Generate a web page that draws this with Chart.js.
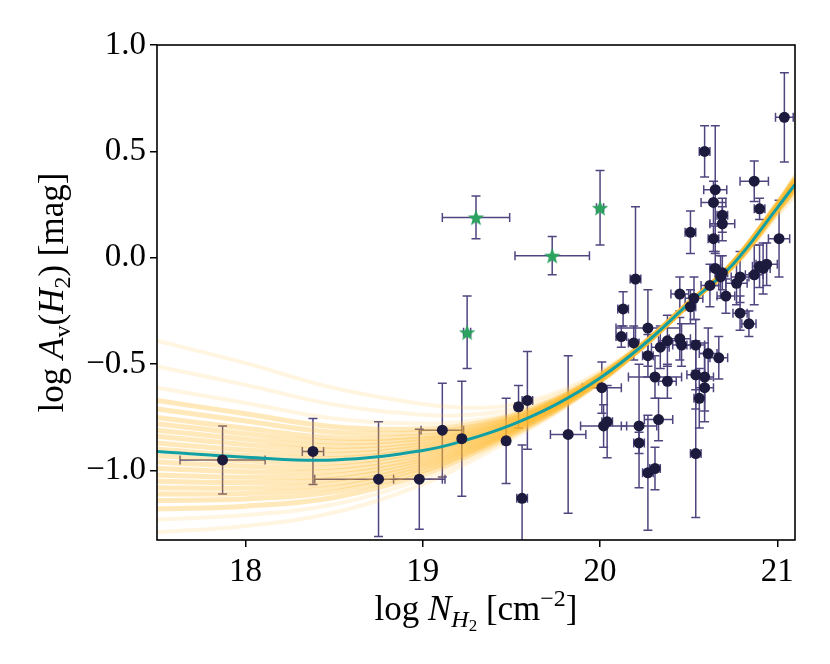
<!DOCTYPE html>
<html>
<head>
<meta charset="utf-8">
<script src="https://cdn.jsdelivr.net/npm/chart.js@4"></script>
<style>
html, body { margin: 0; padding: 0; background: #fff; }
</style>
</head>
<body>
<canvas id="chart" width="830" height="664"></canvas>
<script>
// axis ticks
const xTicks = [18, 19, 20, 21];
const yTicks = [-1.0, -0.5, 0.0, 0.5, 1.0];

// sightlines (dark points)
const obsX = [17.87, 18.38, 18.75, 18.98, 19.11, 19.22, 19.47, 19.54, 19.59, 19.56,
              19.82, 20.01, 20.02, 20.04, 20.20, 20.13, 20.12, 20.27, 20.19, 20.27,
              20.31, 20.22, 20.22, 20.27, 20.31, 20.33, 20.34, 21.04, 20.59, 20.65,
              20.64, 20.87, 20.90, 20.69, 20.69, 20.64, 20.51, 21.01, 20.45, 20.53,
              20.51, 20.62, 20.65, 20.69, 20.68, 20.77, 20.79, 20.87, 20.90, 20.92,
              20.94, 20.71, 20.79, 20.84, 20.38, 20.45, 20.46, 20.54, 20.61, 20.67,
              20.38, 20.54, 20.59, 20.59, 20.56, 20.54];
const obsY = [-0.95, -0.91, -1.04, -1.04, -0.81, -0.85, -0.86, -0.70, -0.67, -1.13,
              -0.83, -0.61, -0.79, -0.77, -0.10, -0.24, -0.37, -0.33, -0.40, -0.46,
              -0.56, -0.79, -0.87, -1.01, -0.99, -0.76, -0.42, 0.66, 0.50, 0.32,
              0.26, 0.36, 0.23, 0.20, 0.16, 0.09, 0.12, 0.09, -0.17, -0.19,
              -0.23, -0.13, -0.05, -0.07, -0.09, -0.12, -0.09, -0.08, -0.04, -0.05,
              -0.03, -0.18, -0.26, -0.31, -0.39, -0.38, -0.41, -0.41, -0.45, -0.47,
              -0.58, -0.55, -0.56, -0.61, -0.66, -0.92];
const obsXErr = [0.24, 0.06, 0.36, 0.145, 0.12, 0.02, 0.02, 0.02, 0.03, 0.03,
                 0.10, 0.11, 0.13, 0.03, 0.03, 0.03, 0.03, 0.18, 0.03, 0.03,
                 0.15, 0.10, 0.03, 0.03, 0.03, 0.08, 0.05, 0.05, 0.03, 0.065,
                 0.07, 0.08, 0.03, 0.03, 0.07, 0.03, 0.03, 0.06, 0.05, 0.05,
                 0.03, 0.05, 0.03, 0.03, 0.03, 0.06, 0.05, 0.05, 0.04, 0.04,
                 0.06, 0.05, 0.04, 0.04, 0.05, 0.06, 0.05, 0.05, 0.05, 0.05,
                 0.05, 0.05, 0.05, 0.05, 0.03, 0.03];
const obsYErr = [0.16, 0.155, 0.27, 0.235, 0.22, 0.27, 0.20, 0.10, 0.23, 0.25,
                 0.37, 0.12, 0.10, 0.17, 0.34, 0.08, 0.05, 0.18, 0.08, 0.10,
                 0.10, 0.29, 0.05, 0.27, 0.10, 0.10, 0.10, 0.21, 0.12, 0.30,
                 0.10, 0.095, 0.05, 0.08, 0.08, 0.06, 0.10, 0.18, 0.08, 0.10,
                 0.08, 0.10, 0.08, 0.08, 0.10, 0.10, 0.12, 0.14, 0.10, 0.12,
                 0.10, 0.08, 0.08, 0.06, 0.12, 0.10, 0.10, 0.12, 0.12, 0.10,
                 0.08, 0.16, 0.16, 0.16, 0.14, 0.30];

// green stars
const starX = [19.30, 19.73, 20.00, 19.25];
const starY = [0.19, 0.01, 0.235, -0.35];
const starXErr = [0.19, 0.21, 0.02, 0.02];
const starYErr = [0.10, 0.09, 0.175, 0.17];

// best fit (teal)
const fitX = [17.5, 18.0, 18.5, 19.0, 19.25, 19.5, 19.75, 20.0, 20.25, 20.5, 20.75, 21.0, 21.1];
const fitY = [-0.91, -0.937, -0.95, -0.905, -0.855, -0.785, -0.69, -0.565, -0.405, -0.215, -0.03, 0.235, 0.345];

// posterior draws (orange band), read at the same x as the fit
const bandX = fitX;
const bandCore = [
  [-0.67, -0.733, -0.794, -0.804, -0.785, -0.742, -0.664, -0.551, -0.399, -0.212, -0.038, 0.218, 0.319],
  [-0.71, -0.767, -0.820, -0.821, -0.797, -0.749, -0.668, -0.553, -0.400, -0.212, -0.037, 0.221, 0.323],
  [-0.75, -0.801, -0.846, -0.838, -0.809, -0.756, -0.672, -0.555, -0.401, -0.213, -0.036, 0.224, 0.327],
  [-0.78, -0.827, -0.865, -0.850, -0.817, -0.762, -0.676, -0.557, -0.402, -0.213, -0.035, 0.226, 0.331],
  [-0.81, -0.852, -0.885, -0.863, -0.826, -0.767, -0.679, -0.559, -0.402, -0.214, -0.034, 0.228, 0.334],
  [-0.84, -0.877, -0.904, -0.876, -0.835, -0.772, -0.682, -0.561, -0.403, -0.214, -0.032, 0.230, 0.337],
  [-0.87, -0.903, -0.924, -0.888, -0.843, -0.778, -0.686, -0.563, -0.404, -0.215, -0.031, 0.232, 0.341],
  [-0.90, -0.928, -0.943, -0.901, -0.852, -0.783, -0.689, -0.564, -0.405, -0.215, -0.030, 0.234, 0.344],
  [-0.93, -0.954, -0.963, -0.913, -0.861, -0.789, -0.692, -0.566, -0.405, -0.215, -0.029, 0.236, 0.347],
  [-0.96, -0.980, -0.983, -0.926, -0.870, -0.794, -0.696, -0.568, -0.406, -0.216, -0.028, 0.239, 0.351],
  [-0.99, -1.005, -1.002, -0.939, -0.878, -0.799, -0.699, -0.570, -0.407, -0.216, -0.027, 0.241, 0.354],
  [-1.02, -1.031, -1.022, -0.951, -0.887, -0.805, -0.702, -0.572, -0.408, -0.217, -0.026, 0.243, 0.357],
  [-1.05, -1.056, -1.041, -0.964, -0.896, -0.810, -0.705, -0.573, -0.409, -0.217, -0.025, 0.245, 0.360],
  [-1.08, -1.082, -1.061, -0.976, -0.904, -0.816, -0.709, -0.575, -0.409, -0.218, -0.024, 0.247, 0.364],
  [-1.11, -1.107, -1.080, -0.989, -0.913, -0.821, -0.712, -0.577, -0.410, -0.218, -0.023, 0.249, 0.367],
  [-1.14, -1.133, -1.100, -1.002, -0.922, -0.826, -0.715, -0.579, -0.411, -0.219, -0.022, 0.251, 0.370],
  [-1.18, -1.167, -1.126, -1.018, -0.933, -0.834, -0.720, -0.581, -0.412, -0.219, -0.021, 0.254, 0.375]
];
const bandTails = [
  [-0.39, -0.495, -0.612, -0.687, -0.704, -0.691, -0.633, -0.534, -0.392, -0.210, -0.048, 0.199, 0.288],
  [-0.51, -0.597, -0.690, -0.737, -0.739, -0.713, -0.646, -0.541, -0.395, -0.211, -0.044, 0.207, 0.301],
  [-0.61, -0.682, -0.755, -0.779, -0.768, -0.731, -0.657, -0.547, -0.398, -0.211, -0.041, 0.214, 0.312],
  [-1.23, -1.209, -1.158, -1.039, -0.948, -0.843, -0.725, -0.584, -0.413, -0.220, -0.019, 0.257, 0.380],
  [-1.29, -1.260, -1.197, -1.065, -0.965, -0.853, -0.732, -0.588, -0.415, -0.220, -0.017, 0.262, 0.387]
];

const serif = '"Liberation Serif", "DejaVu Serif", serif';
const barColor = '#4f4680';

function starImage()
{
    const c = document.createElement('canvas');
    c.width = 20; c.height = 20;
    const g = c.getContext('2d');
    g.fillStyle = '#2ca25f';
    g.beginPath();
    for (let i = 0; i < 10; i++) {
        const r = i % 2 ? 3.6 : 8.6;
        const a = -Math.PI / 2 + i * Math.PI / 5;
        g.lineTo(10 + r * Math.cos(a), 10.8 + r * Math.sin(a));
    }
    g.closePath();
    g.fill();
    return c;
}

const errorBars = {
    id: 'errorBars',
    beforeDatasetsDraw(chart) {
        const {ctx, chartArea: a, scales: {x, y}} = chart;
        const cap = 4.5;
        ctx.save();
        ctx.beginPath();
        ctx.rect(a.left, a.top, a.width, a.height);
        ctx.clip();
        ctx.strokeStyle = barColor;
        ctx.lineWidth = 1.5;
        const draw = (xs, ys, xe, ye) => {
            for (let i = 0; i < xs.length; i++) {
                const px = x.getPixelForValue(xs[i]);
                const py = y.getPixelForValue(ys[i]);
                const x0 = x.getPixelForValue(xs[i] - xe[i]);
                const x1 = x.getPixelForValue(xs[i] + xe[i]);
                const y0 = y.getPixelForValue(ys[i] + ye[i]);
                const y1 = y.getPixelForValue(ys[i] - ye[i]);
                ctx.beginPath();
                ctx.moveTo(x0, py); ctx.lineTo(x1, py);
                ctx.moveTo(x0, py - cap); ctx.lineTo(x0, py + cap);
                ctx.moveTo(x1, py - cap); ctx.lineTo(x1, py + cap);
                ctx.moveTo(px, y0); ctx.lineTo(px, y1);
                ctx.moveTo(px - cap, y0); ctx.lineTo(px + cap, y0);
                ctx.moveTo(px - cap, y1); ctx.lineTo(px + cap, y1);
                ctx.stroke();
            }
        };
        draw(obsX, obsY, obsXErr, obsYErr);
        draw(starX, starY, starXErr, starYErr);
        ctx.restore();
    }
};

const frame = {
    id: 'frame',
    afterDatasetsDraw(chart) {
        const {ctx, chartArea: a} = chart;
        ctx.save();
        ctx.strokeStyle = '#000';
        ctx.lineWidth = 1.6;
        ctx.strokeRect(a.left, a.top, a.width, a.height);
        ctx.restore();
    }
};

// pieces: [text, italic, size, shift]
function richText(ctx, parts, cx, base)
{
    let total = 0;
    parts.forEach(p => {
        ctx.font = (p[1] ? 'italic ' : '') + p[2] + 'px ' + serif;
        total += ctx.measureText(p[0]).width;
    });
    let x = cx - total / 2;
    parts.forEach(p => {
        ctx.font = (p[1] ? 'italic ' : '') + p[2] + 'px ' + serif;
        ctx.fillText(p[0], x, base + p[3]);
        x += ctx.measureText(p[0]).width;
    });
}

const titles = {
    id: 'titles',
    afterDraw(chart) {
        const {ctx, chartArea: a} = chart;
        ctx.save();
        ctx.fillStyle = '#000';
        ctx.textBaseline = 'alphabetic';
        ctx.textAlign = 'left';
        richText(ctx, [
            ['log ', false, 35, 0], ['N', true, 35, 0], ['H', true, 24, 7],
            ['2', false, 17, 11], [' [cm', false, 35, 0], ['\u22122', false, 24, -14], [']', false, 35, 0]
        ], (a.left + a.right) / 2, 620);
        ctx.translate(63, (a.top + a.bottom) / 2);
        ctx.rotate(-Math.PI / 2);
        richText(ctx, [
            ['log ', false, 35, 0], ['A', true, 35, 0], ['v', false, 24, 7],
            ['(', false, 35, 0], ['H', true, 35, 0], ['2', false, 24, 7],
            [') [mag]', false, 35, 0]
        ], 0, 0);
        ctx.restore();
    }
};

function curveSet(rows, color, width)
{
    return rows.map(s => ({
        type: 'line',
        data: bandX.map((v, i) => ({x: v, y: s[i]})),
        borderColor: color,
        borderWidth: width,
        pointRadius: 0,
        fill: false,
        tension: 0.4,
        order: 3
    }));
}

const obsPoints = obsX.map((v, i) => ({x: v, y: obsY[i]}));
const starPoints = starX.map((v, i) => ({x: v, y: starY[i]}));
const fitPoints = fitX.map((v, i) => ({x: v, y: fitY[i]}));

const ctx = document.getElementById('chart');

new Chart(ctx, {
    type: 'scatter',
    data: {
        datasets: curveSet(bandTails, 'rgba(255, 190, 60, 0.16)', 4)
            .concat(curveSet(bandCore, 'rgba(255, 184, 40, 0.32)', 5))
            .concat([
            {
                type: 'line',
                data: fitPoints,
                borderColor: '#12a0a4',
                borderWidth: 3,
                pointRadius: 0,
                fill: false,
                tension: 0.4,
                order: 2
            },
            {
                data: obsPoints,
                pointRadius: 5.5,
                backgroundColor: '#1c1a3d',
                borderWidth: 0,
                order: 1
            },
            {
                data: starPoints,
                pointStyle: starImage(),
                pointRadius: 8,
                order: 0
            }
        ])
    },
    options: {
        responsive: false,
        animation: false,
        devicePixelRatio: 1,
        layout: { padding: { left: 0, right: 35, top: 45, bottom: 0 } },
        plugins: { legend: { display: false }, tooltip: { enabled: false } },
        scales: {
            x: {
                type: 'linear',
                min: 17.5,
                max: 21.1,
                afterFit: s => { s.height = 124; },
                afterBuildTicks: s => { s.ticks = xTicks.map(v => ({value: v})); },
                grid: { drawOnChartArea: false, drawTicks: true, tickLength: 7, color: '#000', lineWidth: 1.5 },
                border: { display: false },
                ticks: { font: { family: serif, size: 33 }, color: '#000', padding: 6, maxRotation: 0,
                         callback: v => String(v) }
            },
            y: {
                type: 'linear',
                min: -1.326,
                max: 1.0,
                afterFit: s => { s.width = 157; },
                afterBuildTicks: s => { s.ticks = yTicks.map(v => ({value: v})); },
                grid: { drawOnChartArea: false, drawTicks: true, tickLength: 7, color: '#000', lineWidth: 1.5 },
                border: { display: false },
                ticks: { font: { family: serif, size: 33 }, color: '#000', padding: 4,
                         callback: v => (v < 0 ? '\u2212' : '') + Math.abs(v).toFixed(1) }
            }
        }
    },
    plugins: [errorBars, frame, titles]
});
</script>
</body>
</html>
